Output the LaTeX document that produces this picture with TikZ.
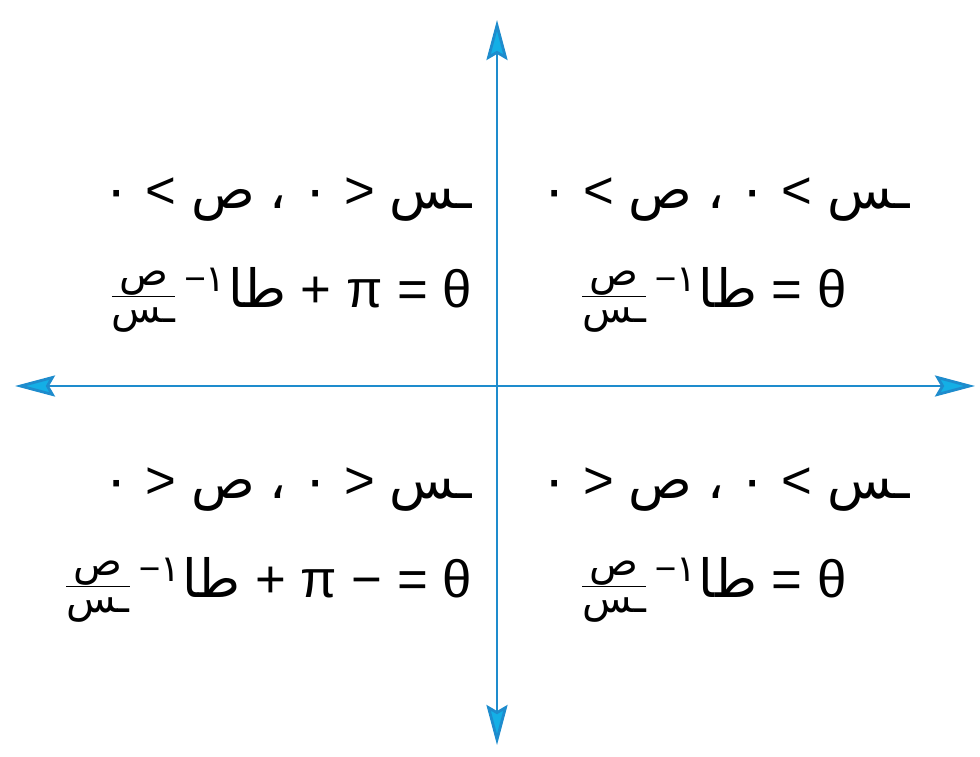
\documentclass[tikz,border=0pt]{standalone}
\usepackage{fontspec}
\setmainfont{Liberation Sans}
\newfontfamily\arabicfont[Script=Arabic]{DejaVu Sans}
\usetikzlibrary{arrows.meta}
\definecolor{axisblue}{RGB}{30,140,205}
\definecolor{tipcyan}{RGB}{20,175,230}
\newcommand\arb[1]{{\arabicfont #1}}
\newcommand\yx{$\frac{\hbox{\fontsize{23}{23}\selectfont\arb{ص}}}{\hbox{\fontsize{23}{23}\selectfont\arb{ـس}}}$}
\newcommand\tanv{\yx\kern4pt\textsuperscript{−\arb{١}}\kern1pt\arb{طا}}
\begin{document}
\begin{tikzpicture}[
    cond/.style={font=\fontsize{30}{36}\selectfont, inner sep=0pt},
    angle/.style={font=\fontsize{30}{36}\selectfont, inner sep=0pt},
    axis/.style={draw=axisblue, line width=1.6pt,
                 {Stealth[length=0.8cm,width=0.42cm,inset=0.12cm,fill=tipcyan]}-{Stealth[length=0.8cm,width=0.42cm,inset=0.12cm,fill=tipcyan]}}
]
\useasboundingbox[fill=white] (0,0) rectangle (19.6,15.12);

% axes
\coordinate (top)    at (9.94,14.72);
\coordinate (bottom) at (9.94,0.22);
\coordinate (left)   at (0.3,7.40);
\coordinate (right)  at (19.5,7.40);
\draw[axis] (left) -- (right);
\draw[axis] (bottom) -- (top);

% quadrant labels
\node[cond, anchor=west]  (q1cond)  at (10.8,11.12) {\arb{٠} < \arb{ص} \arb{،} \arb{٠} < \arb{ـس}};
\node[angle, anchor=west] (q1angle) at (11.6,9.12)  {\tanv{} = θ};
\node[cond, anchor=east]  (q2cond)  at (9.45,11.12) {\arb{٠} < \arb{ص} \arb{،} \arb{٠} > \arb{ـس}};
\node[angle, anchor=east] (q2angle) at (9.45,9.12)  {\tanv{} + π = θ};
\node[cond, anchor=east]  (q3cond)  at (9.45,5.32)  {\arb{٠} > \arb{ص} \arb{،} \arb{٠} > \arb{ـس}};
\node[angle, anchor=east] (q3angle) at (9.45,3.32)  {\tanv{} + π − = θ};
\node[cond, anchor=west]  (q4cond)  at (10.8,5.32)  {\arb{٠} > \arb{ص} \arb{،} \arb{٠} < \arb{ـس}};
\node[angle, anchor=west] (q4angle) at (11.6,3.32)  {\tanv{} = θ};
\end{tikzpicture}
\end{document}
